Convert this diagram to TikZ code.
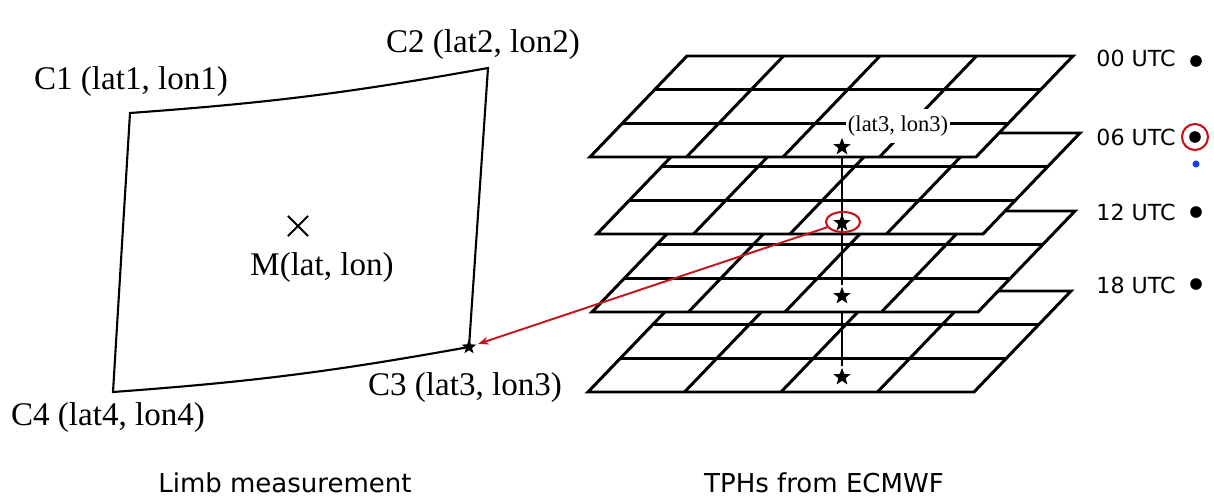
\documentclass[tikz,border=0pt]{standalone}
\usepackage{fontspec}
\setmainfont{Liberation Serif}
\setsansfont{DejaVu Sans}
\usetikzlibrary{arrows.meta,shapes.geometric,shapes.misc}
\definecolor{MarkRed}{RGB}{200,20,28}
\definecolor{DotBlue}{RGB}{25,60,235}

\begin{document}
\begin{tikzpicture}[
          x=0.01cm,y=-0.01cm,
          gl/.style={line width=0.85pt,black},
          ql/.style={line width=0.6pt,black},
          lb/.style={font=\fontsize{9.4}{11}\selectfont,inner sep=0pt,anchor=base},
          ttl/.style={font=\sffamily\fontsize{7.4}{9}\selectfont,inner sep=0pt},
          utc/.style={font=\sffamily\fontsize{6.3}{8}\selectfont,inner sep=0pt},
          pt/.style={star,star points=5,star point ratio=2.4,fill=black,
                     inner sep=0pt,minimum size=5.2pt},
          dot/.style={circle,fill=black,inner sep=0pt,minimum size=3.3pt},
          ar/.style={-{Stealth[scale=0.55]},line width=0.55pt,MarkRed},
          tphgrid/.pic={
            \filldraw[gl,fill=white] (0,0) -- (386,0) -- (483,-101) -- (97,-101) -- cycle;
            \foreach \i in {1,2} \draw[gl] ({97*\i/3},{-101*\i/3}) -- ++(386,0);
            \foreach \j in {1,2,3} \draw[gl] ({96.5*\j},0) -- ++(97,-101);
          }
        ]
          \useasboundingbox (0,0) rectangle (1214,497);

          % limb footprint
          \coordinate (c1) at (130,113);
          \coordinate (c2) at (488,68);
          \coordinate (c3) at (469,347);
          \coordinate (c4) at (113,392);
          \draw[ql] (c1) to[bend right=3] (c2) -- (c3) to[bend left=3] (c4) -- cycle;
          \node(m)[cross out,draw,line width=0.55pt,inner sep=0pt,minimum size=5.2pt] at (298,226) {};

          \node(l1)[lb] at (131,90) {C1 (lat1, lon1)};
          \node(l2)[lb] at (483,53) {C2 (lat2, lon2)};
          \node(l3)[lb] at (465,395) {C3 (lat3, lon3)};
          \node(l4)[lb] at (108,425) {C4 (lat4, lon4)};
          \node(lm)[lb] at (322,275) {M(lat, lon)};
          \node(k3)[pt,minimum size=4.4pt] at (c3) {};

          % ECMWF levels, bottom first
          \coordinate (g1) at (842,147);
          \coordinate (g2) at (842,223);
          \coordinate (g3) at (842,296);
          \coordinate (g4) at (842,377);

          \pic at (588,392) {tphgrid};
          \node(s4)[pt] at (g4) {};
          \draw[gl] (g3) -- (s4);
          \pic at (592,312) {tphgrid};
          \node(s3)[pt] at (g3) {};
          \pic at (597,234) {tphgrid};
          \draw[gl] (g1) -- (s3);
          \node(s2)[pt] at (g2) {};
          \pic at (590,157) {tphgrid};
          \node(s1)[pt] at (g1) {};
          \node(p3)[fill=white,inner xsep=0.5pt,inner ysep=1.8pt,
                    font=\fontsize{6.4}{8}\selectfont] at (898,126) {(lat3, lon3)};

          \node(ring)[ellipse,draw=MarkRed,line width=0.6pt,inner sep=0pt,
                      minimum width=9.7pt,minimum height=5.7pt] at (843,222) {};
          \draw[ar] (ring) -- (k3);

          % analysis times
          \node(t0)[utc] at (1136,58) {00 UTC};
          \node(t6)[utc] at (1136,137) {06 UTC};
          \node(t12)[utc] at (1136,212) {12 UTC};
          \node(t18)[utc] at (1136,285) {18 UTC};
          \node(d0)[dot] at (1196,61) {};
          \node(d6)[dot] at (1195,137) {};
          \node(d12)[dot] at (1196,212) {};
          \node(d18)[dot] at (1196,284) {};
          \node(o6)[circle,draw=MarkRed,line width=0.6pt,inner sep=0pt,minimum size=7.4pt] at (d6) {};
          \node(b6)[circle,fill=DotBlue,inner sep=0pt,minimum size=2pt] at (1196,164) {};

          \node(cl)[ttl] at (285,483) {Limb measurement};
          \node(cr)[ttl] at (824,483) {TPHs from ECMWF};
        \end{tikzpicture}
\end{document}
